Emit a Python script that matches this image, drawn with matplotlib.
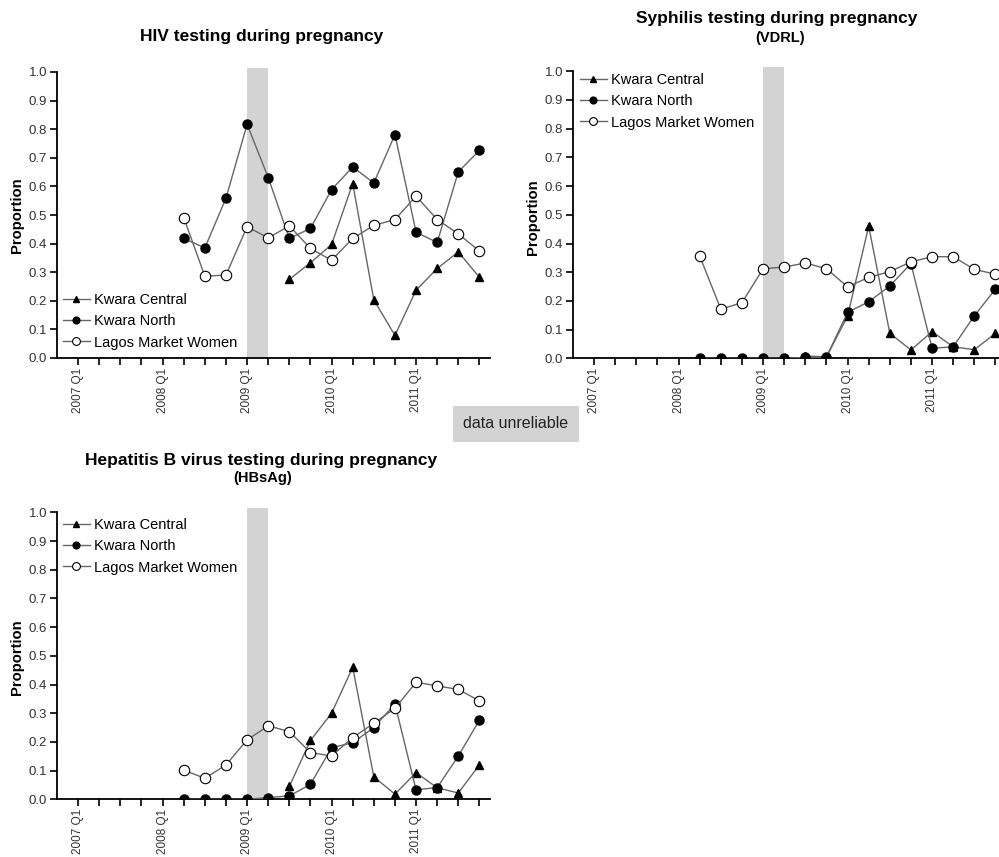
import numpy as np
import matplotlib.pyplot as plt

plt.rcParams['font.family'] = ['Liberation Sans', 'DejaVu Sans']

# quarters 2007 Q1 .. 2011 Q4
quarters = [f'{y} Q{q}' for y in range(2007, 2012) for q in range(1, 5)]
series_names = ['Kwara Central', 'Kwara North', 'Lagos Market Women']

N = None
# HIV testing
hiv_central = [N]*10 + [0.275, 0.333, 0.397, 0.61, 0.203, 0.079, 0.237, 0.313, 0.371, 0.282]
hiv_north = [N]*5 + [0.418, 0.385, 0.559, 0.817, 0.631, 0.418, 0.453, 0.589, 0.668, 0.612,
                     0.781, 0.44, 0.404, 0.651, 0.726]
hiv_lagos = [N]*5 + [0.491, 0.286, 0.29, 0.459, 0.42, 0.462, 0.383, 0.342, 0.418, 0.464,
                     0.484, 0.566, 0.484, 0.434, 0.374]

# Syphilis testing (VDRL)
vdrl_central = [N]*10 + [0.008, 0.005, 0.147, 0.46, 0.087, 0.029, 0.093, 0.04, 0.03, 0.087]
vdrl_north = [N]*5 + [0.0, 0.0, 0.0, 0.0, 0.0, 0.003, 0.005, 0.16, 0.197, 0.252,
                      0.33, 0.035, 0.04, 0.148, 0.241]
vdrl_lagos = [N]*5 + [0.356, 0.171, 0.194, 0.312, 0.318, 0.332, 0.312, 0.249, 0.282, 0.302,
                      0.336, 0.354, 0.354, 0.31, 0.293]

# Hepatitis B testing (HBsAg)
hbs_central = [N]*10 + [0.045, 0.205, 0.30, 0.46, 0.078, 0.018, 0.093, 0.04, 0.022, 0.12]
hbs_north = [N]*5 + [0.0, 0.0, 0.0, 0.0, 0.006, 0.012, 0.052, 0.18, 0.197, 0.25,
                     0.332, 0.033, 0.041, 0.151, 0.276]
hbs_lagos = [N]*5 + [0.102, 0.073, 0.12, 0.207, 0.256, 0.236, 0.163, 0.151, 0.215, 0.265,
                     0.317, 0.408, 0.395, 0.383, 0.343]

W, H = 999, 857
fig = plt.figure(figsize=(W/100, H/100), dpi=100)


def px(x, y):
    return x / W, 1 - y / H


def panel(left_px, bottom_px, unit_px, data, legend_top, legend_left):
    l, b = px(left_px, bottom_px)
    ax = fig.add_axes([l, b, 433 / W, 1.02 * unit_px / H])
    ax.set_xlim(-1, 19.5)
    ax.set_ylim(0, 1.02)
    ax.axvspan(8, 9, ymin=0, ymax=1.015 / 1.02, color='#d3d3d3', zorder=0, lw=0)

    x = np.arange(len(quarters))
    styles = [dict(marker='^', mfc='black', mec='black', ms=6),
              dict(marker='o', mfc='black', mec='black', ms=6.5),
              dict(marker='o', mfc='white', mec='black', ms=7.5, mew=0.8)]
    for name, vals, st in zip(series_names, data, styles):
        v = np.array([np.nan if a is None else a for a in vals], dtype=float)
        ax.plot(x, v, color='#666666', lw=1, label=name, zorder=3, **st)

    for s in ['top', 'right']:
        ax.spines[s].set_visible(False)
    ax.spines['left'].set_bounds(0, 1)
    for s in ['left', 'bottom']:
        ax.spines[s].set_linewidth(1.3)

    ax.set_yticks(np.arange(0, 1.01, 0.1))
    ax.set_yticklabels([f'{t:.1f}' for t in np.arange(0, 1.01, 0.1)])
    ax.set_xticks(x)
    ax.set_xticklabels([q if i % 4 == 0 else '' for i, q in enumerate(quarters)], rotation=90)
    ax.tick_params(direction='out', length=5, width=1.2, labelcolor='#333333', pad=2)
    ax.tick_params(axis='y', labelsize=9.5)
    ax.tick_params(axis='x', labelsize=8.5)

    ax.legend(loc='upper left', bbox_to_anchor=px(legend_left, legend_top),
              bbox_transform=fig.transFigure, frameon=False, fontsize=10.5,
              handlelength=1.85, handletextpad=0.3, labelspacing=0.5,
              borderpad=0, borderaxespad=0, markerscale=0.75)
    return ax


panel(57, 358, 286, [hiv_central, hiv_north, hiv_lagos], 293, 63)
panel(573, 358.3, 287, [vdrl_central, vdrl_north, vdrl_lagos], 73, 580)
panel(57, 799.3, 287, [hbs_central, hbs_north, hbs_lagos], 518, 63)

# titles
fig.text(*px(262, 37), 'HIV testing during pregnancy', ha='center', va='center',
         fontsize=12.5, fontweight='bold')
fig.text(*px(777, 19), 'Syphilis testing during pregnancy', ha='center', va='center',
         fontsize=12.5, fontweight='bold')
fig.text(*px(780, 38), '(VDRL)', ha='center', va='center', fontsize=10.5, fontweight='bold')
fig.text(*px(261, 460), 'Hepatitis B virus testing during pregnancy', ha='center', va='center',
         fontsize=12.5, fontweight='bold')
fig.text(*px(263, 478), '(HBsAg)', ha='center', va='center', fontsize=10.5, fontweight='bold')

# y labels
for xx, yy in [(17, 215), (533, 217), (17, 657)]:
    fig.text(*px(xx, yy), 'Proportion', rotation=90, ha='center', va='center',
             fontsize=10.7, fontweight='bold')

# data unreliable key
fig.text(*px(516, 424), 'data unreliable', ha='center', va='center', fontsize=11.5,
         color='#222222',
         bbox=dict(boxstyle='square,pad=0.65', fc='#d3d3d3', ec='none'))

fig.savefig('out.png', dpi=100)
